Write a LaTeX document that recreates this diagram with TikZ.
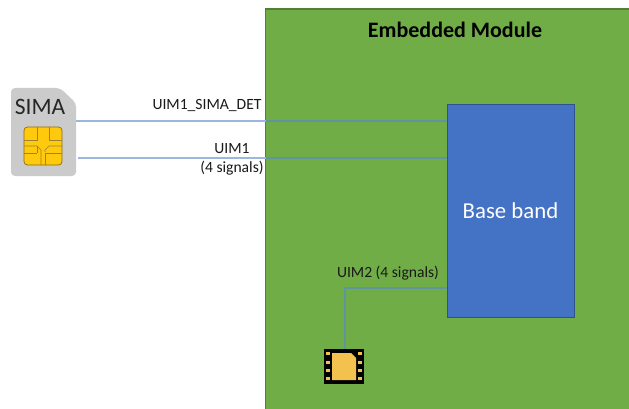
\documentclass[tikz,border=0pt]{standalone}
\usepackage{fontspec}
\setmainfont{Carlito}
\usetikzlibrary{calc}
\definecolor{modgreen}{HTML}{70AD47}
\definecolor{modedge}{HTML}{527F34}
\definecolor{bbblue}{HTML}{4472C4}
\definecolor{bbedge}{HTML}{2F528F}
\definecolor{wireblue}{HTML}{9DB6E0}
\definecolor{modwireblue}{HTML}{5F95A2}
\definecolor{simgrey}{HTML}{CBCBCB}
\definecolor{chipgold}{HTML}{FFC90E}
\definecolor{chipline}{HTML}{8A6D10}
\definecolor{memgold}{HTML}{F2C14E}
\tikzset{
  x=1pt,y=-1pt,
  wire/.style={draw=wireblue,line width=1.5pt},
  modwire/.style={draw=modwireblue,line width=1.5pt},
  label/.style={font=\fontsize{15.6}{17}\selectfont,text=black!90,inner sep=0pt,align=center},
  pad/.style={fill=memgold,draw=none},
}
\begin{document}
\begin{tikzpicture}
\useasboundingbox (0,0) rectangle (629,409);
\fill[white] (0,0) rectangle (629,409);
% module
\path[fill=modgreen] (265.5,9) rectangle (629,409);
\draw[modedge,line width=1.2pt] (629,9) -- (265.5,9) -- (265.5,409);
\node[font=\bfseries\fontsize{22}{24}\selectfont,inner sep=0pt] (title) at (455,30) {Embedded Module};
% connectors' free ends
\coordinate (simA) at (76,121);
\coordinate (simB) at (78,158);
\coordinate (edgeA) at (265.5,121);
\coordinate (edgeB) at (265.5,158);
\coordinate (memtop) at (345,349);
\coordinate (bbA) at (447,121);
\coordinate (bbB) at (447,158);
\coordinate (bbC) at (447,288);
\draw[wire] (simA) -- (edgeA);
\draw[modwire] (edgeA) -- (bbA);
\draw[wire] (simB) -- (edgeB);
\draw[modwire] (edgeB) -- (bbB);
\draw[modwire] (bbC) -| (memtop);
% base band
\node[draw=bbedge,line width=1pt,fill=bbblue,minimum width=127pt,minimum height=212pt,inner sep=0pt,
      text=white,font=\fontsize{22.8}{25}\selectfont] (bb) at (510.5,211) {Base band};
% SIM card
\path[fill=simgrey,rounded corners=4pt] (11,88) -- (60,88) -- (76,103) -- (76,176) -- (11,176) -- cycle;
\node[inner sep=0pt,font=\fontsize{23.5}{25}\selectfont,text=black!85] (simlabel) at (40,106.5) {SIMA};
% SIM contacts
\draw[fill=chipgold,draw=chipline,line width=.7pt,rounded corners=3.5pt] (24,127) rectangle (62,165);
\begin{scope}[draw=chipline!85,line width=.6pt]
  \draw (37,127) -- (37,140) -- (24,140);
  \draw (49,127) -- (49,140) -- (62,140);
  \draw (24,146) -- (37,146) -- (41,150) -- (41,165);
  \draw (62,146) -- (49,146) -- (45,150) -- (45,152);
  \draw (24,153) -- (37,153);
  \draw (62,153) -- (45,153) -- (45,165);
  \draw (37,153) -- (37,146);
\end{scope}
% memory chip
\fill[black] (324,349) rectangle (364,384);
\path[fill=memgold] (332,353) -- (351,353) -- (356,358) -- (356,380) -- (332,380) -- cycle;
\foreach \py in {353.5,362.5,370.5,378.5}{
  \path[pad] (326,{\py-1.5}) rectangle (330,{\py+1.5});
  \path[pad] (358,{\py-1.5}) rectangle (362,{\py+1.5});
}
% labels
\node[label] (l1) at (207,105.5) {UIM1\_SIMA\_DET};
\node[label] (l2) at (232,148.5) {UIM1};
\node[label] (l3) at (232,168) {(4 signals)};
\node[label] (l4) at (388,273) {UIM2 (4 signals)};
\end{tikzpicture}
\end{document}
